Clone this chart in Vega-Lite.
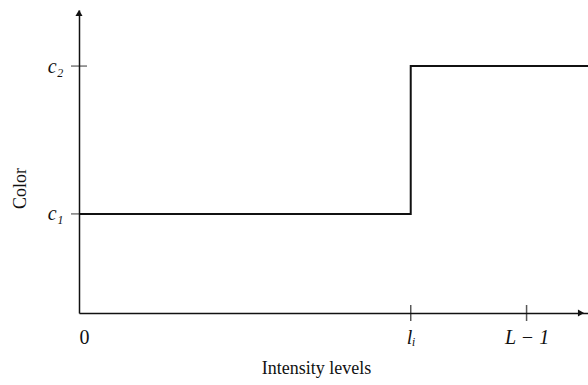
{
  "$schema": "https://vega.github.io/schema/vega-lite/v6.json",
  "width": 509,
  "height": 303,
  "autosize": "none",
  "padding": {"left": 79, "top": 10, "right": 0, "bottom": 72},
  "background": "white",
  "config": {"view": {"stroke": null}, "font": "Liberation Serif"},
  "datasets": {
    "step": [
      {"i": 1, "x": 0, "y": 32.7},
      {"i": 2, "x": 189, "y": 32.7},
      {"i": 3, "x": 189, "y": 81.5},
      {"i": 4, "x": 290, "y": 81.5}
    ],
    "yticks": [{"x": 0, "y": 32.7}, {"x": 0, "y": 81.5}],
    "xticks": [{"x": 189, "y": 0}, {"x": 255, "y": 0}],
    "arrows": [
      {"x": 0, "y": 99, "shape": "triangle-up"},
      {"x": 286, "y": 0, "shape": "triangle-right"}
    ]
  },
  "encoding": {
    "x": {
      "field": "x", "type": "quantitative",
      "scale": {"domain": [0, 290], "nice": false, "zero": false},
      "axis": {
        "values": [0, 189, 255],
        "labelExpr": "datum.value == 0 ? '0' : datum.value == 189 ? 'lᵢ' : 'L − 1'",
        "labelFontStyle": {"condition": {"test": "datum.value == 0", "value": "normal"}, "value": "italic"},
        "labelFont": "Liberation Serif", "labelFontSize": 20, "labelColor": "#111",
        "labelPadding": 14, "ticks": false, "grid": false,
        "domainColor": "#111", "domainWidth": 1.5,
        "title": "Intensity levels", "titleFont": "Liberation Serif", "titleFontSize": 18,
        "titleFontWeight": "normal", "titleColor": "#111", "titleX": 237, "titleY": 46
      }
    },
    "y": {
      "field": "y", "type": "quantitative",
      "scale": {"domain": [0, 100], "nice": false, "zero": false},
      "axis": {
        "values": [32.7, 81.5],
        "labelExpr": "datum.value < 50 ? 'c₁' : 'c₂'",
        "labelFontStyle": "italic",
        "labelFont": "Liberation Serif", "labelFontSize": 20, "labelColor": "#111",
        "labelPadding": 16, "ticks": false, "grid": false,
        "domainColor": "#111", "domainWidth": 1.5,
        "title": "Color", "titleFont": "Liberation Serif", "titleFontSize": 18,
        "titleFontWeight": "normal", "titleColor": "#111", "titleX": -50, "titleY": 178
      }
    }
  },
  "layer": [
    {
      "data": {"name": "step"},
      "mark": {"type": "line", "color": "#111", "strokeWidth": 2, "interpolate": "linear"},
      "encoding": {"order": {"field": "i", "type": "quantitative"}}
    },
    {
      "data": {"name": "yticks"},
      "mark": {"type": "tick", "orient": "horizontal", "color": "#111", "size": 16, "thickness": 1.2}
    },
    {
      "data": {"name": "xticks"},
      "mark": {"type": "tick", "orient": "vertical", "color": "#111", "size": 16, "thickness": 1.5}
    },
    {
      "data": {"name": "arrows"},
      "mark": {"type": "point", "filled": true, "color": "#111", "size": 50, "opacity": 1},
      "encoding": {"shape": {"field": "shape", "type": "nominal", "scale": null, "legend": null}}
    }
  ]
}
